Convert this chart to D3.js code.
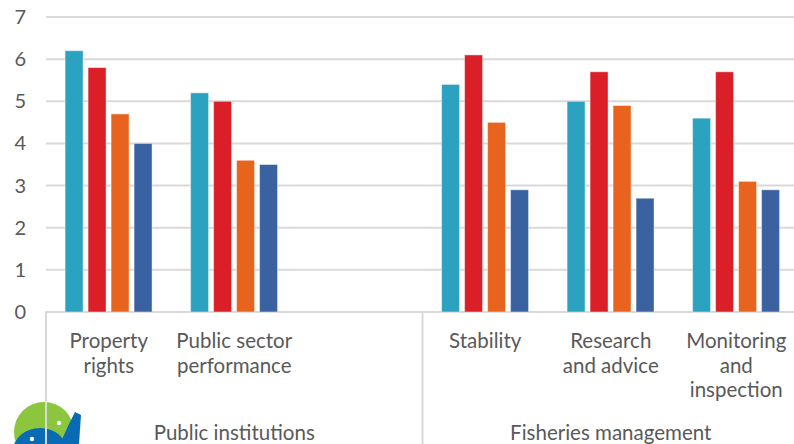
<!DOCTYPE html>
<html>
<head>
<meta charset="utf-8">
<script src="https://cdn.jsdelivr.net/npm/d3@7"></script>
<style>
	body { margin: 0; background: #fff; }
	svg { display: block; font-family: Lato, "Open Sans", sans-serif; }
	.tick-label { fill: #595959; font-size: 20px; }
	.cat-label { fill: #595959; font-size: 20.5px; }
	.grid line { stroke: #d9d9d9; stroke-width: 2; }
</style>
</head>
<body>
<svg id="chart" width="794" height="444"></svg>
<script>
// categories (blank slot between the two groups), one line per entry
var categories = ["c0", "c1", "c2", "c3", "c4", "c5"];
var categoryLines = [
	["Property", "rights"],
	["Public sector", "performance"],
	[],
	["Stability"],
	["Research", "and advice"],
	["Monitoring", "and", "inspection"]
];
var groupNames = ["Public institutions", "Fisheries management"];
var groupSpans = [[0, 3], [3, 6]];

var seriesNames = ["s1", "s2", "s3", "s4"];
var seriesColors = ["#2ba3c0", "#da1f28", "#e8641e", "#3a62a0"];
var s1 = [6.2, 5.2, null, 5.4, 5.0, 4.6];
var s2 = [5.8, 5.0, null, 6.1, 5.7, 5.7];
var s3 = [4.7, 3.6, null, 4.5, 4.9, 3.1];
var s4 = [4.0, 3.5, null, 2.9, 2.7, 2.9];
var seriesValues = [s1, s2, s3, s4];

var yTicks = [0, 1, 2, 3, 4, 5, 6, 7];

window.onload = init;

function init() {
	var svg = d3.select("#chart");
	var margin = { left: 46, top: 17, bottom: 312, right: 799 };

	var x = d3.scaleBand()
		.domain(categories)
		.range([margin.left, margin.right]);
	var bw = x.bandwidth();
	var x1 = d3.scaleBand()
		.domain(seriesNames)
		.range([bw * 0.152, bw * 0.845])
		.paddingInner(5 / 23);
	var y = d3.scaleLinear()
		.domain([0, 7])
		.range([margin.bottom, margin.top]);

	// logo (drawn first so the axis line sits on top)
	var logo = svg.append("g").attr("class", "logo");
	logo.append("circle").attr("cx", 44).attr("cy", 432).attr("r", 30).attr("fill", "#8cc63f");
	logo.append("path")
		.attr("d", "M60,444 L68,426 L75,412 L81,415 L79,444 Z")
		.attr("fill", "#0a6bb5");
	logo.append("ellipse").attr("cx", 40).attr("cy", 451).attr("rx", 27).attr("ry", 23).attr("fill", "#0a6bb5");
	logo.append("circle").attr("cx", 59).attr("cy", 423).attr("r", 2.2).attr("fill", "#fff");
	logo.append("circle").attr("cx", 32).attr("cy", 439).attr("r", 2.2).attr("fill", "#fff");

	// gridlines
	svg.append("g").attr("class", "grid")
		.selectAll("line")
		.data(yTicks)
		.enter().append("line")
		.attr("x1", margin.left)
		.attr("x2", 794)
		.attr("y1", function(d) { return y(d); })
		.attr("y2", function(d) { return y(d); });

	// tick labels
	svg.append("g")
		.selectAll("text")
		.data(yTicks)
		.enter().append("text")
		.attr("class", "tick-label")
		.attr("x", 26)
		.attr("y", function(d) { return y(d); })
		.attr("dy", "0.35em")
		.attr("text-anchor", "end")
		.text(function(d) { return d; });

	// bars
	var rows = [];
	categories.forEach(function(c, i) {
		seriesNames.forEach(function(s, j) {
			if (seriesValues[j][i] != null) rows.push({ cat: c, series: s, value: seriesValues[j][i], color: seriesColors[j] });
		});
	});
	svg.append("g").attr("class", "bars")
		.selectAll("rect")
		.data(rows)
		.enter().append("rect")
		.attr("x", function(d) { return x(d.cat) + x1(d.series); })
		.attr("y", function(d) { return y(d.value); })
		.attr("width", x1.bandwidth())
		.attr("height", function(d) { return y(0) - y(d.value); })
		.attr("fill", function(d) { return d.color; })
		.attr("stroke", "rgba(255,255,255,0.45)")
		.attr("stroke-width", 1);

	// group separators
	var seps = [x(categories[0]), x(categories[3]), margin.right];
	svg.append("g").attr("class", "grid")
		.selectAll("line")
		.data(seps)
		.enter().append("line")
		.attr("x1", function(d) { return d; })
		.attr("x2", function(d) { return d; })
		.attr("y1", y(0) - 1)
		.attr("y2", 444);

	// category labels
	var cat = svg.append("g")
		.selectAll("text")
		.data(categories)
		.enter().append("text")
		.attr("class", "cat-label")
		.attr("text-anchor", "middle")
		.attr("x", function(d) { return x(d) + bw / 2; })
		.attr("y", 348);
	cat.each(function(d, i) {
		var t = d3.select(this);
		categoryLines[i].forEach(function(line, k) {
			t.append("tspan")
				.attr("x", x(d) + bw / 2)
				.attr("dy", k === 0 ? 0 : 24.5)
				.text(line);
		});
	});

	// group labels
	svg.append("g")
		.selectAll("text")
		.data(groupNames)
		.enter().append("text")
		.attr("class", "cat-label")
		.attr("text-anchor", "middle")
		.attr("x", function(d, i) {
			var a = x(categories[groupSpans[i][0]]);
			var b = x(categories[groupSpans[i][1] - 1]) + bw;
			return (a + b) / 2;
		})
		.attr("y", 440)
		.text(function(d) { return d; });
}
</script>
</body>
</html>
